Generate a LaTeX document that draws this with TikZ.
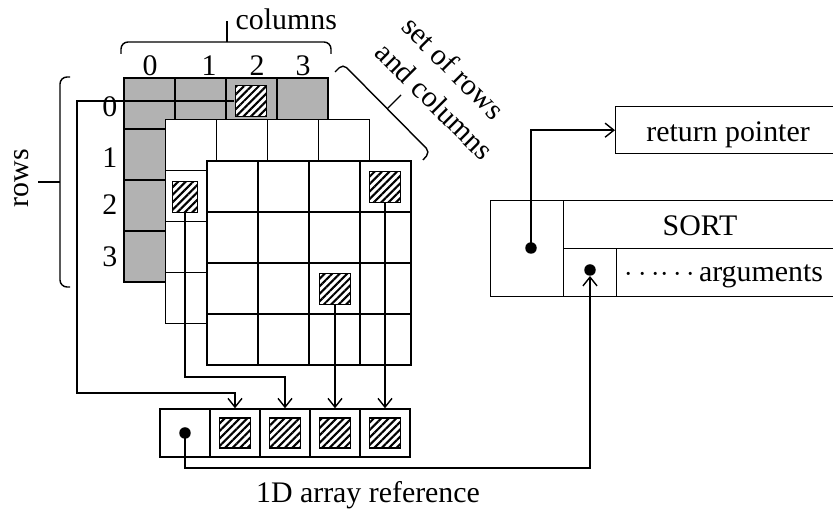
\documentclass[tikz,border=0pt]{standalone}
\usepackage{fontspec}
\setmainfont{Liberation Serif}
\usepackage{xcolor}
\usepackage{tikz}
\usetikzlibrary{arrows.meta,positioning,patterns.meta}
\definecolor{gridgray}{RGB}{178,178,178}

\begin{document}
\begin{tikzpicture}[
    x=0.02cm, y=-0.02cm,
    >={Straight Barb[length=5pt,width=8pt]},
    font=\fontsize{17pt}{21pt}\selectfont,
    line width=0.8pt,
    tag/.style={inner sep=0pt},
    cellbox/.style={draw, fill=white, minimum width=1cm, minimum height=0.96cm, inner sep=0pt},
    hatchbox/.style={draw, line width=1pt, preaction={fill=white}, pattern={Lines[angle=45,distance=3pt,line width=1.2pt]}, minimum size=0.62cm, inner sep=0pt},
    recbox/.style={draw, anchor=north west, inner sep=0pt},
    ptrdot/.style={circle, fill=black, inner sep=0pt, minimum size=0.23cm},
    ptr/.style={->}
]
\useasboundingbox (0,0) rectangle (833,509);
\clip (0,0) rectangle (833,509);

% the three planes of the array
\foreach \k/\shade in {0/gridgray,1/white,2/white}{
  \begin{scope}[shift={(124+41.5*\k,78+41.5*\k)}]
    \filldraw[fill=\shade] (0,0) rectangle (204,204);
    \foreach \i in {1,2,3}
      \draw (51*\i,0) -- (51*\i,204) (0,51*\i) -- (204,51*\i);
  \end{scope}
}

% indices and braces
\foreach \n/\cx in {0/150,1/209,2/257,3/303}
  \node[tag, anchor=base] (col\n) at (\cx,76) {\n};
\foreach \n/\ry in {0/117,1/168,2/215,3/267}
  \node[tag, anchor=base east] (row\n) at (118,\ry) {\n};
\node[tag, anchor=base west] (colslbl) at (235,30) {columns};
\draw[rounded corners=4pt] (121,54) |- (331,42) -- (331,54);
\draw (227,42) -- (227,21);
\node[tag, rotate=90] (rowslbl) at (22,178) {rows};
\draw[rounded corners=4pt] (70,77) -| (60,287) -- (70,287);
\draw (60,182) -- (38,182);
\node[tag, rotate=-45, align=left] (setlbl) at (448,88) {set of rows\\and columns};
\draw[rounded corners=3pt] (335,72) -- (343,64) -- (430,152) -- (423,160);
\draw (387,109) -- (401,95);

% selected elements
\node[hatchbox] (p0) at (251,101) {};
\node[hatchbox, minimum width=0.5cm] (p1) at (185,197) {};
\node[hatchbox] (p2) at (385,187) {};
\node[hatchbox] (p3) at (335,289) {};

% 1D array of references
\foreach \i in {0,...,4}
  \node[cellbox] (a\i) at (185+50*\i,433) {};
\foreach \i in {1,...,4}
  \node[hatchbox, minimum height=0.6cm] (h\i) at (a\i) {};
\node[tag, anchor=base] (arrlbl) at (368,503) {1D array reference};

\coordinate (bendA) at (77,393);
\coordinate (bendB) at (285,377);
\draw[ptr] (p0.west) -| (bendA) -| (a1.north);
\draw[ptr] (p1.south) |- (bendB) -- (a2.north);
\draw[ptr] (p3.south) -- (a3.north);
\draw[ptr] (p2.south) -- (a4.north);

% call frame
\node[recbox, minimum width=4.6cm, minimum height=0.94cm] (ret) at (615,106) {};
\node[tag, anchor=base] (retlbl) at (728,142) {return pointer};
\node[recbox, minimum width=1.46cm, minimum height=1.92cm] (frame) at (490,200) {};
\node[recbox, minimum width=5.64cm, minimum height=0.96cm] (sort) at (563,200) {};
\node[recbox, minimum width=1.06cm, minimum height=0.96cm] (argcell) at (563,248) {};
\node[recbox, minimum width=4.6cm, minimum height=0.96cm] (args) at (616,248) {};
\node[tag, anchor=base] (sortlbl) at (700,236) {SORT};
\node[tag, anchor=base west] (argslbl) at (624,282) {$\cdots\!\cdots$\kern2pt arguments};

\coordinate (bendC) at (590,468);
\draw[ptr] (a0.center) |- (bendC) -- (590,276);
\draw[ptr] (531,248) |- (ret.west);
\node[ptrdot] (adot) at (a0) {};
\node[ptrdot] (retdot) at (531,248) {};
\node[ptrdot] (argdot) at (590,270) {};
\end{tikzpicture}
\end{document}
